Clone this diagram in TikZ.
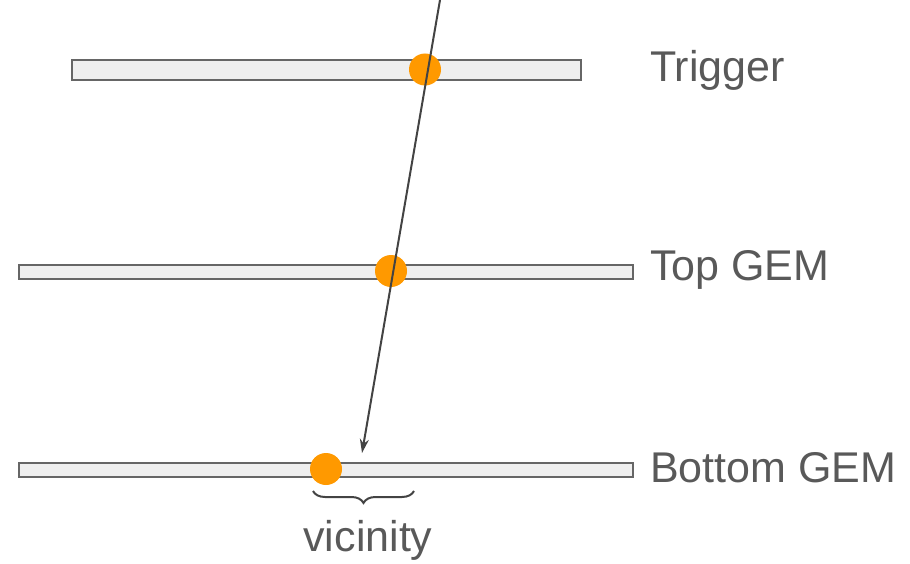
\documentclass[tikz,border=0pt]{standalone}
\usepackage{fontspec}
\setmainfont{Liberation Sans}
\usetikzlibrary{arrows.meta,decorations.pathreplacing}
\definecolor{barfill}{HTML}{EFEFEF}
\definecolor{barline}{HTML}{666666}
\definecolor{hit}{HTML}{FF9900}
\definecolor{track}{HTML}{434343}
\definecolor{labeltext}{HTML}{595959}
\begin{document}
\begin{tikzpicture}[x=1pt,y=-1pt,
  plane/.style={draw=barline,fill=barfill,line width=2pt,inner sep=0pt,anchor=north west},
  hitdot/.style={circle,fill=hit,inner sep=0pt,minimum size=32pt},
  lbl/.style={text=labeltext,font=\fontsize{43}{48}\selectfont,inner sep=0pt},
]
\useasboundingbox (0,0) rectangle (910,564);
% detector planes
\node[plane,minimum width=509pt,minimum height=20pt] (trig) at (71,59) {};
\node[plane,minimum width=614pt,minimum height=14pt] (topgem) at (18,264) {};
\node[plane,minimum width=614pt,minimum height=14pt] (botgem) at (18,462) {};
% hits
\node[hitdot] (h1) at (425,69.5) {};
\node[hitdot] (h2) at (391,271) {};
\node[hitdot] (h3) at (326,469) {};
% particle track
\coordinate (tstart) at (440,0);
\coordinate (tend) at (362,453);
\draw[track,line width=2pt,-{Stealth[length=14pt,width=9pt]}] (tstart) -- (tend);
% labels
\node[lbl,anchor=west] (ltrig) at (650,70) {Trigger};
\node[lbl,anchor=west] (ltop) at (650,270) {Top GEM};
\node[lbl,anchor=west] (lbot) at (650,468) {Bottom GEM};
% vicinity brace
\coordinate (bl) at (313,491);
\coordinate (br) at (414,491);
\draw[track,line width=2pt,decorate,decoration={brace,mirror,amplitude=12pt}] (bl) -- (br);
\node[lbl,anchor=center] (vic) at (368,540) {vicinity};
\end{tikzpicture}
\end{document}
